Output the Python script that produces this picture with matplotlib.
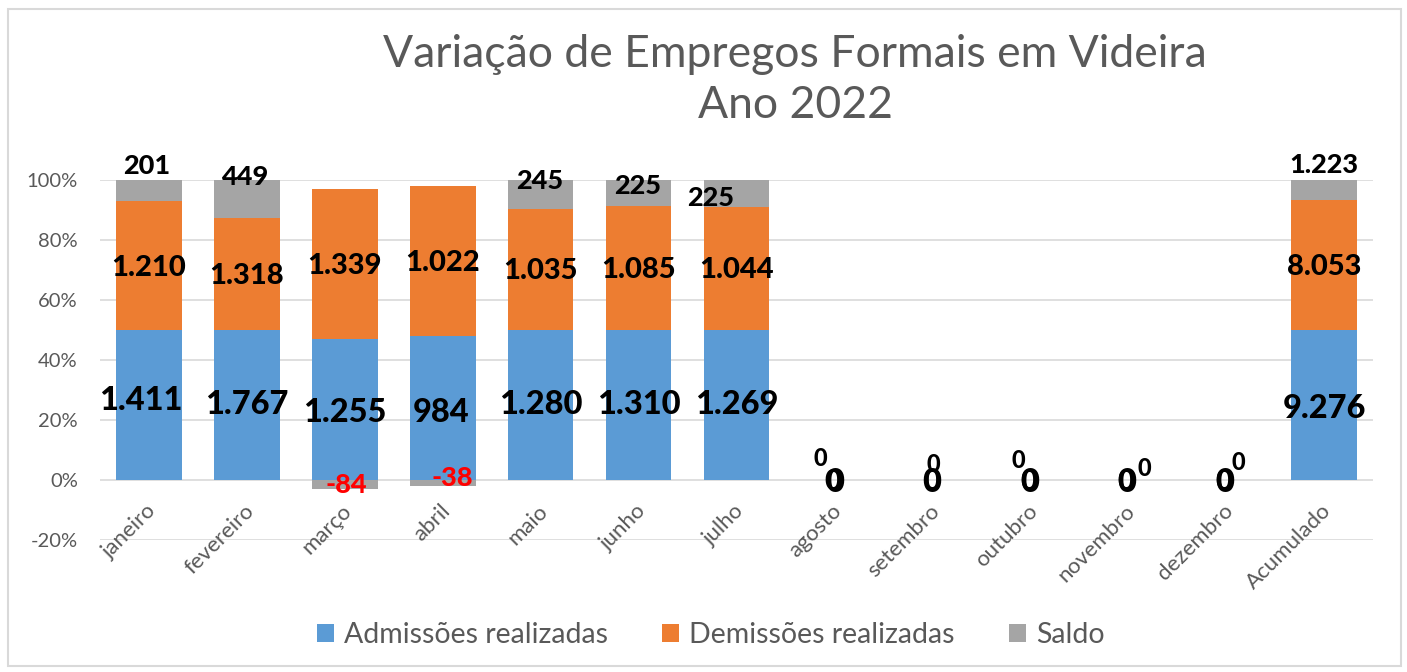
import numpy as np
import matplotlib
matplotlib.use("Agg")
import matplotlib.pyplot as plt
from matplotlib.patches import Rectangle

# ---- data ----
categories = ["janeiro", "fevereiro", "março", "abril", "maio", "junho", "julho",
              "agosto", "setembro", "outubro", "novembro", "dezembro", "Acumulado"]
admissoes = [1411, 1767, 1255, 984, 1280, 1310, 1269, 0, 0, 0, 0, 0, 9276]
demissoes = [1210, 1318, 1339, 1022, 1035, 1085, 1044, 0, 0, 0, 0, 0, 8053]
saldo = [201, 449, -84, -38, 245, 225, 225, 0, 0, 0, 0, 0, 1223]
series_names = ["Admissões realizadas", "Demissões realizadas", "Saldo"]
yticks = [-0.2, 0, 0.2, 0.4, 0.6, 0.8, 1.0]
title = "Variação de Empregos Formais em Videira\nAno 2022"

# ---- style ----
FONT = "Lato"
plt.rcParams["font.family"] = [FONT, "DejaVu Sans"]
c_blue, c_orange, c_gray = "#5B9BD5", "#ED7D31", "#A5A5A5"
txt_gray = "#595959"
grid_c = "#D9D9D9"
LBL_W = 900

# label offsets in pixels (dx, dy) - positional styling of labels
off_a = [(-8, 4), (0, 0), (0, -3), (-2, -5), (0, 0), (0, 0), (0, 0),
         (0, -2), (-1, -2), (-1, -2), (-1, -2), (-1, -2), (0, -3)]
off_d = [(0, -2)] * 7 + [(-2, -2), (-1, -2), (-1, -2), (-2, -2), (-2, -2)] + [(0, -2)]
off_s = [(-2, 25), (-2, 22), (2, 0), (10, 5), (-1, 13), (-1, 7), (-26, -5),
         (-14, 22), (1, 15), (-12, 20), (16, 12), (12, 17), (0, 25)]

a = np.array(admissoes, float)
d = np.array(demissoes, float)
s = np.array(saldo, float)
tot = np.abs(a) + np.abs(d) + np.abs(s)
safe = np.where(tot > 0, tot, 1)
fa, fd, fs = a / safe, d / safe, s / safe

x = np.arange(len(categories))
W, H = 1407, 672
fig = plt.figure(figsize=(W / 100, H / 100), dpi=100)
ax = fig.add_axes([100 / W, 1 - 540 / H, 1273 / W, 360 / H])

bw = 0.67
ax.bar(x, fa, bw, color=c_blue, label=series_names[0], zorder=2)
ax.bar(x, fd, bw, bottom=fa, color=c_orange, label=series_names[1], zorder=2)
s_bottom = np.where(fs >= 0, fa + fd, 0)
ax.bar(x, fs, bw, bottom=s_bottom, color=c_gray, label=series_names[2], zorder=2)

ax.set_xlim(-0.5, len(categories) - 0.5)
ax.set_ylim(-0.2, 1.0)
ax.set_yticks(yticks)
ax.set_yticklabels([f"{int(round(v*100))}%" for v in yticks], color=txt_gray, fontsize=14.5)
ax.yaxis.grid(True, color=grid_c, lw=1.2, zorder=0)
ax.tick_params(axis="both", length=0)
ax.tick_params(axis="y", pad=16)
for sp in ax.spines.values():
    sp.set_visible(False)

ax.set_xticks(x)
ax.set_xticklabels([])
for i, c in enumerate(categories):
    ax.annotate(c, xy=(i, 0), xytext=(4, -28), textcoords="offset pixels",
                rotation=45, ha="right", va="center", rotation_mode="anchor",
                color=txt_gray, fontsize=16, annotation_clip=False)


def fmt(v):
    return f"{int(v):,}".replace(",", ".")


for i in range(len(categories)):
    ca = fa[i] / 2
    cd = fa[i] + fd[i] / 2
    cs = s_bottom[i] + fs[i] / 2
    ax.annotate(fmt(a[i]), xy=(i, ca), xytext=off_a[i], textcoords="offset pixels",
                ha="center", va="center", fontsize=23.5, fontweight=LBL_W,
                color="black", zorder=5, annotation_clip=False)
    ax.annotate(fmt(d[i]), xy=(i, cd), xytext=off_d[i], textcoords="offset pixels",
                ha="center", va="center", fontsize=21, fontweight=LBL_W,
                color="black", zorder=5, annotation_clip=False)
    ax.annotate(fmt(s[i]), xy=(i, cs), xytext=off_s[i], textcoords="offset pixels",
                ha="center", va="center", fontsize=19.5 if s[i] != 0 else 17,
                fontweight=LBL_W, color="red" if s[i] < 0 else "black",
                zorder=5, annotation_clip=False)

fig.text(795 / W, 1 - 80 / H, title, ha="center", va="center", fontsize=32,
         color=txt_gray, linespacing=1.3)

leg = fig.legend(loc="center", bbox_to_anchor=(711 / W, 1 - 635 / H), ncol=3,
                 frameon=False, fontsize=20.5, handlelength=0.6, handleheight=0.6,
                 handletextpad=0.35, columnspacing=1.9)
for t in leg.get_texts():
    t.set_color(txt_gray)

fig.patches.append(Rectangle((8 / W, 6 / H), 1393 / W, 657 / H, transform=fig.transFigure,
                             fill=False, edgecolor=grid_c, lw=1.5))

fig.savefig("out.png", dpi=100)
